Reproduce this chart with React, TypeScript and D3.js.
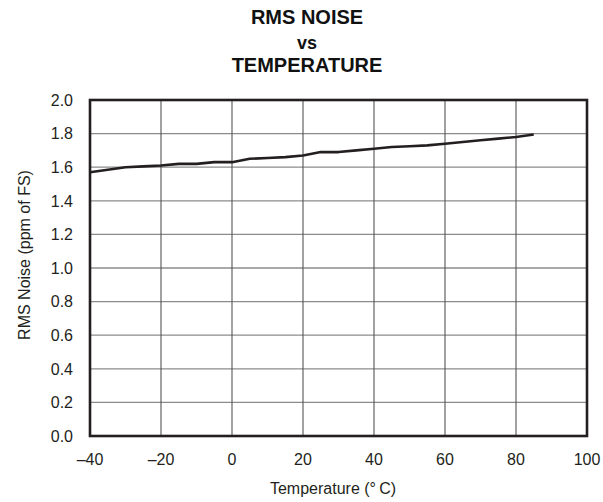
import React from "react";
import * as d3 from "d3";

const temperatures = [-40, -35, -30, -25, -20, -15, -10, -5, 0, 5, 10, 15, 20, 25, 30, 35, 40, 45, 50, 55, 60, 65, 70, 75, 80, 85];
const noise = [1.57, 1.585, 1.6, 1.605, 1.61, 1.62, 1.62, 1.63, 1.63, 1.65, 1.655, 1.66, 1.67, 1.69, 1.69, 1.7, 1.71, 1.72, 1.725, 1.73, 1.74, 1.75, 1.76, 1.77, 1.78, 1.795];
const xTicks = [-40, -20, 0, 20, 40, 60, 80, 100];
const yTicks = [0, 0.2, 0.4, 0.6, 0.8, 1.0, 1.2, 1.4, 1.6, 1.8, 2.0];
const titleLines = ["RMS NOISE", "vs", "TEMPERATURE"];
const xTitle = "Temperature (°\u2009C)";
const yTitle = "RMS Noise (ppm of FS)";

export default function App() {
  const W = 603, H = 502;
  const left = 90, right = 587, top = 100, bottom = 436;
  const x = d3.scaleLinear().domain([-40, 100]).range([left, right]);
  const y = d3.scaleLinear().domain([0, 2]).range([bottom, top]);
  const line = d3.line<number>().x((_, i) => x(temperatures[i])).y((d) => y(d));
  const font = "'Liberation Sans', Arial, Helvetica, sans-serif";
  const fmtX = (v: number) => (v < 0 ? "\u2013" + Math.abs(v) : String(v));
  const titleY = [24, 49, 72];
  return (
    <svg width={W} height={H} style={{ position: "absolute", left: 0, top: 0, background: "#fff" }} fontFamily={font}>
      {titleLines.map((t, i) => (
        <text key={t} x={307} y={titleY[i]} textAnchor="middle" fontWeight="bold" fontSize={i === 1 ? 18 : 20} fill="#111">{t}</text>
      ))}
      {yTicks.slice(1, -1).map((v) => (
        <line key={"h" + v} x1={left} x2={right} y1={y(v)} y2={y(v)} stroke="#8c8c8c" strokeWidth={1.3} />
      ))}
      {xTicks.slice(1, -1).map((v) => (
        <line key={"v" + v} x1={x(v)} x2={x(v)} y1={top} y2={bottom} stroke="#555" strokeWidth={1.1} />
      ))}
      <path d={line(noise) || ""} fill="none" stroke="#231f20" strokeWidth={2.6} strokeLinejoin="round" />
      <rect x={left} y={top} width={right - left} height={bottom - top} fill="none" stroke="#231f20" strokeWidth={2.6} />
      {yTicks.map((v) => (
        <text key={"yl" + v} x={73} y={y(v)} dy="0.36em" textAnchor="end" fontSize={16} fill="#231f20">{v.toFixed(1)}</text>
      ))}
      {xTicks.map((v) => (
        <text key={"xl" + v} x={x(v)} y={465} textAnchor="middle" fontSize={16} fill="#231f20">{fmtX(v)}</text>
      ))}
      <text x={333} y={494} textAnchor="middle" fontSize={16} fill="#231f20">{xTitle}</text>
      <text transform={`translate(30, 255) rotate(-90)`} textAnchor="middle" fontSize={16} fill="#231f20">{yTitle}</text>
    </svg>
  );
}
